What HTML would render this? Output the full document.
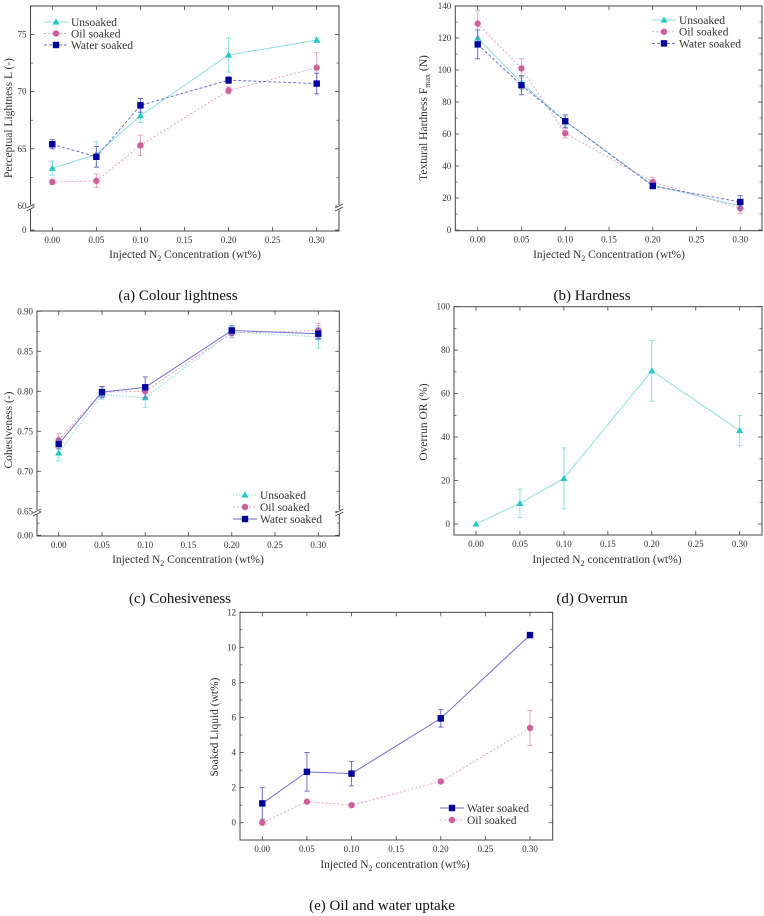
<!DOCTYPE html>
<html><head><meta charset="utf-8">
<style>
html,body{margin:0;padding:0;background:#fff;}
svg{display:block;}
svg text{font-family:"Liberation Serif",serif;}
.cap{font-size:15px;fill:#111;}
</style></head>
<body>
<svg id="fig" width="764" height="916" viewBox="0 0 764 916" xmlns="http://www.w3.org/2000/svg">
<text class="cap" x="178" y="300" text-anchor="middle">(a) Colour lightness</text>
<text class="cap" x="592" y="300" text-anchor="middle">(b) Hardness</text>
<text class="cap" x="180" y="603" text-anchor="middle">(c) Cohesiveness</text>
<text class="cap" x="592" y="603" text-anchor="middle">(d) Overrun</text>
<text class="cap" x="382" y="910" text-anchor="middle">(e) Oil and water uptake</text>
</svg>
<script>
// shared x categories
const xVals = [0, 0.05, 0.10, 0.20, 0.30];
const xTicks = [0, 0.05, 0.10, 0.15, 0.20, 0.25, 0.30];
// (a) lightness
const aUnsoaked = [63.3, 64.5, 67.9, 73.2, 74.5];
const aUnsoakedErr = [0.6, 1.1, 0.6, 1.5, 0.2];
const aOil = [62.1, 62.2, 65.3, 70.1, 72.1];
const aOilErr = [0.2, 0.6, 0.9, 0.3, 1.3];
const aWater = [65.4, 64.3, 68.8, 71.0, 70.7];
const aWaterErr = [0.4, 0.9, 0.6, 0.3, 0.9];
const aYTicks = [0, 60, 65, 70, 75];
// (b) hardness
const bUnsoaked = [120, 92, 68, 28, 15];
const bUnsoakedErr = [5, 4, 3, 2, 2];
const bOil = [129, 101, 60.5, 30, 13.5];
const bOilErr = [8, 6, 3, 3, 3];
const bWater = [116, 90.5, 68, 27.5, 17.5];
const bWaterErr = [9, 6, 4, 1, 4];
const bYTicks = [0, 20, 40, 60, 80, 100, 120, 140];
// (c) cohesiveness
const cUnsoaked = [0.723, 0.796, 0.792, 0.874, 0.868];
const cUnsoakedErr = [0.01, 0.006, 0.012, 0.006, 0.014];
const cOil = [0.739, 0.799, 0.800, 0.873, 0.876];
const cOilErr = [0.008, 0.006, 0.008, 0.006, 0.009];
const cWater = [0.734, 0.799, 0.805, 0.876, 0.872];
const cWaterErr = [0.006, 0.007, 0.013, 0.006, 0.007];
const cYTicks = [0, 0.65, 0.70, 0.75, 0.80, 0.85, 0.90];
// (d) overrun
const dUnsoaked = [0, 9.5, 21, 70.5, 43];
const dUnsoakedErr = [0, 6.5, 14, 14, 7];
const dYTicks = [0, 20, 40, 60, 80, 100];
// (e) uptake
const eWater = [1.1, 2.9, 2.8, 5.95, 10.7];
const eWaterErr = [0.9, 1.1, 0.7, 0.5, 0.15];
const eOil = [0, 1.2, 1.0, 2.35, 5.4];
const eOilErr = [0.05, 0.05, 0.05, 0.1, 1.0];
const eYTicks = [0, 2, 4, 6, 8, 10, 12];

const NS = "http://www.w3.org/2000/svg";
const svg = document.getElementById('fig');
function mk(tag, attrs, parent){
  const e = document.createElementNS(NS, tag);
  for (const k in attrs) e.setAttribute(k, attrs[k]);
  (parent||svg).appendChild(e);
  return e;
}
const CY='#2cc6c6', PK='#d0609a', NV='#00009a';
const styles = {
  unsoaked:{color:CY, line:'#8fdede', dash:'', marker:'tri', label:'Unsoaked'},
  oil:{color:PK, line:'#e6a3c3', dash:'2,2', marker:'circ', label:'Oil soaked'},
  water:{color:NV, line:'#7070cc', dash:'3,2', marker:'sq', label:'Water soaked'}
};
function marker(g, kind, x, y, color){
  let m;
  if (kind==='tri') m = mk('polygon',{points:`${x},${y-3.6} ${x-3.6},${y+2.6} ${x+3.6},${y+2.6}`,fill:color},g);
  else if (kind==='circ') m = mk('circle',{cx:x,cy:y,r:3.2,fill:color},g);
  else m = mk('rect',{x:x-3.2,y:y-3.2,width:6.4,height:6.4,fill:color},g);
  return m;
}
function dashOf(cfg,k){ return (cfg.dash && k in cfg.dash) ? cfg.dash[k] : styles[k].dash; }
function plot(cfg){
  const g = mk('g',{});
  
  
  const X = v => cfg.x0 + (v - 0) * (cfg.x1 - cfg.x0) / 0.3;
  const Y = cfg.Y;
  const fr = mk('rect',{x:cfg.L,y:cfg.T,width:cfg.R-cfg.L,height:cfg.B-cfg.T,fill:'none',stroke:'#444','stroke-width':1},g);
  
  
  xTicks.forEach((t,i)=>{
    const x = X(t);
    mk('line',{x1:x,y1:cfg.B,x2:x,y2:cfg.B-4,stroke:'#444','stroke-width':0.8},g);
    mk('line',{x1:x,y1:cfg.T,x2:x,y2:cfg.T+4,stroke:'#444','stroke-width':0.8},g);
    const tx = mk('text',{x:x,y:cfg.B+12,'font-size':9,'text-anchor':'middle',fill:'#333'},g);
    tx.textContent = t.toFixed(2);
    
    
  });
  cfg.yTicks.forEach((t,i)=>{
    const y = Y(t);
    mk('line',{x1:cfg.L,y1:y,x2:cfg.L+4,y2:y,stroke:'#444','stroke-width':0.8},g);
    mk('line',{x1:cfg.R,y1:y,x2:cfg.R-4,y2:y,stroke:'#444','stroke-width':0.8},g);
    const tx = mk('text',{x:cfg.L-4,y:y+3,'font-size':9,'text-anchor':'end',fill:'#333'},g);
    tx.textContent = cfg.fmt(t);
    
    
  });
  (cfg.minor||[]).forEach(t=>{
    const y=Y(t);
    mk('line',{x1:cfg.L,y1:y,x2:cfg.L+2.5,y2:y,stroke:'#444','stroke-width':0.7},g);
    mk('line',{x1:cfg.R,y1:y,x2:cfg.R-2.5,y2:y,stroke:'#444','stroke-width':0.7},g);
  });
  if (cfg.breakY){
    [cfg.L, cfg.R].forEach(bx=>{
      mk('rect',{x:bx-2,y:cfg.breakY-2,width:4,height:4,fill:'#fff'},g);
      mk('line',{x1:bx-4,y1:cfg.breakY+1,x2:bx+4,y2:cfg.breakY-3,stroke:'#444','stroke-width':0.9},g);
      mk('line',{x1:bx-4,y1:cfg.breakY+4,x2:bx+4,y2:cfg.breakY,stroke:'#444','stroke-width':0.9},g);
    });
  }
  const xt = mk('text',{x:cfg.xtX,y:cfg.xtY,'font-size':11.5,'text-anchor':'middle',fill:'#333'},g);
  xt.innerHTML = cfg.xTitle;
  
  
  const yt = mk('text',{x:0,y:0,'font-size':11.5,'text-anchor':'middle',fill:'#333',transform:`translate(${cfg.ytX},${cfg.ytY}) rotate(-90)`},g);
  yt.innerHTML = cfg.yTitle;
  
  
  cfg.series.forEach(s=>{
    const st = styles[s.key];
    const sg = mk('g',{},g);
    
    
    const pts = s.vals.map((v,i)=>X(xVals[i])+','+Y(v)).join(' ');
    mk('polyline',{points:pts,fill:'none',stroke:st.line,'stroke-width':1,'stroke-dasharray':dashOf(cfg,s.key)},sg);
    s.vals.forEach((v,i)=>{
      const x=X(xVals[i]), e=s.err[i];
      if (e>0){
        const eb = mk('path',{d:`M${x},${Y(v-e)}V${Y(v+e)}M${x-2.5},${Y(v-e)}H${x+2.5}M${x-2.5},${Y(v+e)}H${x+2.5}`,stroke:st.line,'stroke-width':1,fill:'none'},sg);
        
        
      }
      const m = marker(sg, st.marker, x, Y(v), st.color);
      
      
    });
  });
  if (cfg.legend){
    const lg = mk('g',{},g);
    
    
    cfg.legend.keys.forEach((k,i)=>{
      const st=styles[k], y=cfg.legend.y+i*cfg.legend.dy, lx=cfg.legend.x;
      const eg = mk('g',{},lg);
      
      
      mk('line',{x1:lx,y1:y,x2:lx+24,y2:y,stroke:st.line,'stroke-width':1,'stroke-dasharray':dashOf(cfg,k)},eg);
      marker(eg, st.marker, lx+12, y, st.color);
      const t = mk('text',{x:lx+27,y:y+4,'font-size':11.5,fill:'#333','font-family':'Liberation Serif, serif'},eg);
      t.textContent = st.label;
    });
  }
}
const xTitleN2 = 'Injected N<tspan font-size="8" dy="3">2</tspan><tspan dy="-3"> Concentration (wt%)</tspan>';
const xTitleN2l = 'Injected N<tspan font-size="8" dy="3">2</tspan><tspan dy="-3"> concentration (wt%)</tspan>';

plot({name:'chart-a-lightness', L:30.5,R:339,T:6,B:231, x0:52.3,x1:316.7,
  Y: v => v>=60 ? 206 - (v-60)*57.2/5 : 230 - v*24/60,
  yTicks:aYTicks, minor:[62.5,67.5,72.5,77.5,218], fmt:v=>String(v), breakY:207,
  xTitle:xTitleN2, xtX:185, xtY:258, yTitle:'Perceptual Lightness L (-)', ytX:12, ytY:118,
  series:[{key:'unsoaked',vals:aUnsoaked,err:aUnsoakedErr},{key:'oil',vals:aOil,err:aOilErr},{key:'water',vals:aWater,err:aWaterErr}],
  legend:{x:44,y:22,dy:11.5,keys:['unsoaked','oil','water']}});
plot({name:'chart-b-hardness', L:455.3,R:762,T:6,B:230.7, x0:477.7,x1:740.3,
  Y: v => 230 - v*32/20,
  yTicks:bYTicks, minor:[10,30,50,70,90,110,130], fmt:v=>String(v),
  xTitle:xTitleN2, xtX:609, xtY:258, yTitle:'Textural Hardness F<tspan font-size="8" dy="3">max</tspan><tspan dy="-3"> (N)</tspan>', ytX:427, ytY:118,
  series:[{key:'unsoaked',vals:bUnsoaked,err:bUnsoakedErr},{key:'oil',vals:bOil,err:bOilErr},{key:'water',vals:bWater,err:bWaterErr}],
  legend:{x:652,y:20,dy:11.7,keys:['unsoaked','oil','water']}});
plot({name:'chart-c-cohesiveness', L:37,R:339.3,T:311,B:536, x0:58.7,x1:318.3,
  Y: v => v>=0.65 ? 511.3 - (v-0.65)*40/0.05 : 535.3 - v*24/0.65,
  yTicks:cYTicks, minor:[0.675,0.725,0.775,0.825,0.875,0.33], fmt:v=>v.toFixed(2), breakY:512,
  xTitle:xTitleN2, xtX:188, xtY:563, yTitle:'Cohesiveness (-)', ytX:12, ytY:430,
  dash:{unsoaked:'1.5,1.5', oil:'2,2', water:''},
  series:[{key:'unsoaked',vals:cUnsoaked,err:cUnsoakedErr},{key:'oil',vals:cOil,err:cOilErr},{key:'water',vals:cWater,err:cWaterErr}],
  legend:{x:233,y:495,dy:12,keys:['unsoaked','oil','water']}});
plot({name:'chart-d-overrun', L:454,R:762,T:306.7,B:535, x0:476,x1:739.7,
  Y: v => 524 - v*43.47/20,
  yTicks:dYTicks, minor:[10,30,50,70,90], fmt:v=>String(v),
  xTitle:xTitleN2l, xtX:607, xtY:563, yTitle:'Overrun OR (%)', ytX:427, ytY:422,
  series:[{key:'unsoaked',vals:dUnsoaked,err:dUnsoakedErr}]});
plot({name:'chart-e-uptake', L:240,R:552.7,T:612.3,B:840, x0:262.3,x1:530,
  Y: v => 822.7 - v*35.07/2,
  yTicks:eYTicks, minor:[1,3,5,7,9,11], fmt:v=>String(v),
  xTitle:xTitleN2l, xtX:395, xtY:868, yTitle:'Soaked Liquid (wt%)', ytX:218, ytY:727,
  dash:{water:'', oil:'2,2'},
  series:[{key:'water',vals:eWater,err:eWaterErr},{key:'oil',vals:eOil,err:eOilErr}],
  legend:{x:440,y:808,dy:12,keys:['water','oil']}});
</script>
</body></html>
